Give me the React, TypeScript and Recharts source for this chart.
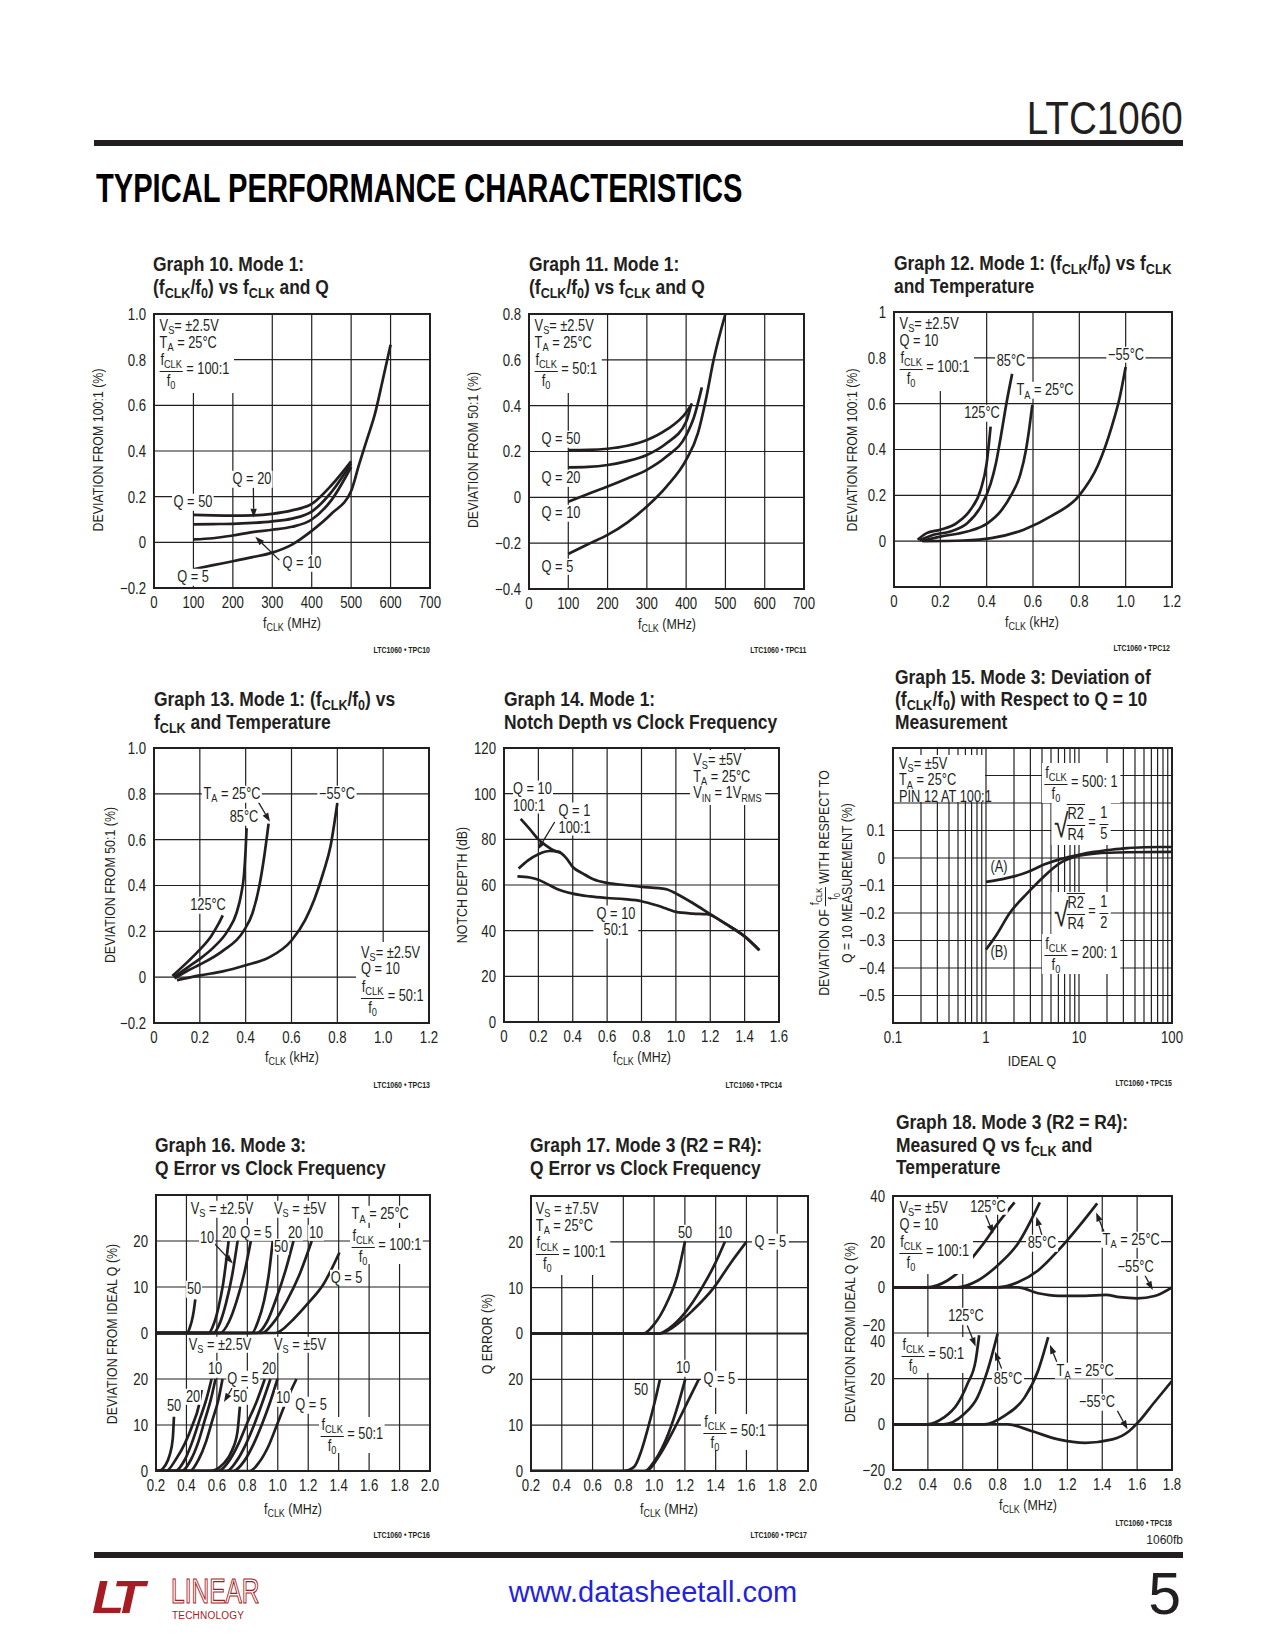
import React from "react";
import { LineChart, Line, XAxis, YAxis, CartesianGrid, ReferenceLine } from "recharts";

type Pt = [number, number];

// Graph 10: deviation from 100:1 (%) vs fCLK (MHz)
const g10Q50: Pt[] = [[100, 0.12], [150, 0.118], [200, 0.117], [250, 0.118], [300, 0.125], [350, 0.14], [400, 0.168], [450, 0.25], [500, 0.355]];
const g10Q20: Pt[] = [[100, 0.079], [150, 0.08], [200, 0.081], [250, 0.085], [300, 0.092], [350, 0.104], [400, 0.135], [450, 0.22], [500, 0.345]];
const g10Q10: Pt[] = [[100, 0.013], [150, 0.018], [200, 0.03], [250, 0.045], [300, 0.055], [350, 0.068], [400, 0.1], [450, 0.185], [500, 0.33]];
const g10Q5: Pt[] = [[100, -0.118], [150, -0.1], [200, -0.083], [250, -0.065], [300, -0.045], [350, -0.01], [400, 0.05], [450, 0.125], [500, 0.225], [520, 0.34], [540, 0.45], [560, 0.56], [580, 0.71], [600, 0.865]];
const g10XTicks = [0, 100, 200, 300, 400, 500, 600, 700];
const g10YTicks = [-0.2, 0, 0.2, 0.4, 0.6, 0.8, 1.0];

// Graph 11: deviation from 50:1 (%) vs fCLK (MHz)
const g11Q50: Pt[] = [[100, 0.206], [150, 0.207], [200, 0.212], [250, 0.225], [300, 0.25], [350, 0.295], [400, 0.37], [415, 0.41]];
const g11Q20: Pt[] = [[100, 0.131], [150, 0.133], [200, 0.141], [250, 0.158], [300, 0.185], [350, 0.236], [400, 0.33], [412, 0.4]];
const g11Q10: Pt[] = [[100, -0.019], [150, 0.015], [200, 0.047], [250, 0.082], [300, 0.12], [350, 0.178], [400, 0.27], [420, 0.35], [440, 0.48]];
const g11Q5: Pt[] = [[100, -0.247], [150, -0.205], [200, -0.164], [250, -0.11], [300, -0.04], [350, 0.047], [400, 0.163], [430, 0.28], [450, 0.425], [470, 0.6], [500, 0.8]];
const g11XTicks = [0, 100, 200, 300, 400, 500, 600, 700];
const g11YTicks = [-0.4, -0.2, 0, 0.2, 0.4, 0.6, 0.8];

// Graph 12: deviation from 100:1 (%) vs fCLK (kHz), temperature
const g12T125: Pt[] = [[0.102, 0.006], [0.141, 0.035], [0.2, 0.05], [0.272, 0.08], [0.33, 0.137], [0.374, 0.224], [0.4, 0.34], [0.417, 0.5]];
const g12T85: Pt[] = [[0.11, 0.003], [0.17, 0.028], [0.243, 0.042], [0.316, 0.078], [0.374, 0.15], [0.417, 0.25], [0.44, 0.34], [0.461, 0.456], [0.485, 0.6], [0.51, 0.73]];
const g12T25: Pt[] = [[0.12, 0], [0.2, 0.02], [0.316, 0.042], [0.403, 0.078], [0.46, 0.13], [0.505, 0.2], [0.545, 0.29], [0.57, 0.4], [0.585, 0.5], [0.597, 0.595]];
const g12Tm55: Pt[] = [[0.127, 0], [0.3, 0.003], [0.42, 0.013], [0.56, 0.05], [0.68, 0.11], [0.8, 0.2], [0.88, 0.33], [0.94, 0.5], [0.975, 0.63], [1.0, 0.76]];
const g12XTicks = [0, 0.2, 0.4, 0.6, 0.8, 1.0, 1.2];
const g12YTicks = [-0.2, 0, 0.2, 0.4, 0.6, 0.8, 1.0];

// Graph 13: deviation from 50:1 (%) vs fCLK (kHz), temperature
const g13T125: Pt[] = [[0.08, 0.005], [0.15, 0.07], [0.2, 0.12], [0.25, 0.18], [0.28, 0.23], [0.3, 0.27]];
const g13T85: Pt[] = [[0.087, 0], [0.15, 0.045], [0.2, 0.08], [0.26, 0.13], [0.32, 0.2], [0.36, 0.28], [0.38, 0.36], [0.393, 0.45], [0.4, 0.56], [0.404, 0.65]];
const g13T25: Pt[] = [[0.09, -0.005], [0.15, 0.03], [0.2, 0.055], [0.3, 0.115], [0.39, 0.2], [0.43, 0.28], [0.46, 0.4], [0.48, 0.52], [0.5, 0.67]];
const g13Tm55: Pt[] = [[0.1, -0.013], [0.2, 0.008], [0.3, 0.025], [0.4, 0.052], [0.5, 0.085], [0.6, 0.16], [0.66, 0.25], [0.7, 0.34], [0.74, 0.46], [0.77, 0.57], [0.8, 0.76]];
const g13XTicks = [0, 0.2, 0.4, 0.6, 0.8, 1.0, 1.2];
const g13YTicks = [-0.2, 0, 0.2, 0.4, 0.6, 0.8, 1.0];

// Graph 14: notch depth (dB) vs clock frequency (MHz)
const g14Q10r100: Pt[] = [[0.097, 89], [0.15, 84.5], [0.2, 80], [0.25, 77], [0.285, 75.3], [0.33, 74.3]];
const g14Q1r100: Pt[] = [[0.085, 67.2], [0.14, 70.8], [0.2, 73.5], [0.265, 74.9], [0.32, 74.4], [0.36, 72], [0.4, 67.9], [0.46, 65], [0.52, 62.5], [0.6, 60.9], [0.7, 60], [0.8, 59.2], [0.9, 58.6], [0.95, 58], [1.0, 56.3], [1.1, 52], [1.2, 47.2], [1.3, 42.5], [1.4, 37.5], [1.486, 31.4]];
const g14Q10r50: Pt[] = [[0.078, 63.8], [0.15, 63.3], [0.2, 62.3], [0.25, 60.5], [0.305, 58.4], [0.4, 56.2], [0.5, 55], [0.6, 54.3], [0.7, 53.8], [0.8, 52.9], [0.887, 51.1], [0.95, 49.5], [1.0, 48.2], [1.1, 47.5], [1.18, 47.2], [1.3, 42.5], [1.4, 37.5], [1.486, 31.4]];
const g14XTicks = [0, 0.2, 0.4, 0.6, 0.8, 1.0, 1.2, 1.4, 1.6];
const g14YTicks = [0, 20, 40, 60, 80, 100, 120];

// Graph 15: deviation vs ideal Q (log)
const g15A: Pt[] = [[1, -0.087], [1.5, -0.077], [2, -0.067], [2.8, -0.051], [4.2, -0.024], [6.3, -0.004], [10, 0.012], [14.5, 0.022], [22, 0.03], [33, 0.036], [50, 0.039], [75, 0.04], [100, 0.04]];
const g15B: Pt[] = [[1, -0.333], [1.3, -0.279], [1.8, -0.2], [2.8, -0.127], [4.2, -0.067], [6.3, -0.018], [10, 0.008], [14.5, 0.016], [33, 0.021], [100, 0.022]];
const g15XTicks = [0.1, 0.2, 0.3, 0.4, 0.5, 0.6, 0.7, 0.8, 0.9, 1, 2, 3, 4, 5, 6, 7, 8, 9, 10, 20, 30, 40, 50, 60, 70, 80, 90, 100];
const g15YTicks = [-0.6, -0.5, -0.4, -0.3, -0.2, -0.1, 0, 0.1, 0.2, 0.3, 0.4];

// Graph 16: Q error (%) vs fCLK (MHz); upper panel 100:1, lower panel 50:1
const g16U25Q50: Pt[] = [[0.2, 0], [0.405, 0], [0.42, 1], [0.435, 2.6], [0.448, 4.8], [0.458, 7.3]];
const g16U25Q20: Pt[] = [[0.2, 0], [0.546, 0], [0.58, 2], [0.61, 5.5], [0.64, 10.5], [0.677, 20]];
const g16U25Q10: Pt[] = [[0.2, 0], [0.578, 0], [0.62, 2.2], [0.66, 6.5], [0.7, 12.5], [0.736, 20]];
const g16U25Q5: Pt[] = [[0.2, 0], [0.622, 0], [0.68, 2.5], [0.73, 7], [0.78, 13], [0.823, 20]];
const g16U5Q50: Pt[] = [[0.2, 0], [0.83, 0], [0.87, 2.5], [0.91, 7], [0.94, 12.5], [0.967, 20]];
const g16U5Q20: Pt[] = [[0.2, 0], [0.862, 0], [0.93, 2.5], [0.99, 7.5], [1.05, 13.5], [1.103, 20]];
const g16U5Q10: Pt[] = [[0.2, 0], [0.895, 0], [0.97, 2.2], [1.06, 7], [1.14, 12.5], [1.223, 20]];
const g16U5Q5: Pt[] = [[0.2, 0], [0.983, 0], [1.1, 2.9], [1.2, 6.5], [1.3, 10.6], [1.405, 17.5]];
const g16L25Q50: Pt[] = [[0.2, 0], [0.215, 0], [0.26, 1.2], [0.29, 3.5], [0.31, 7], [0.318, 11.8]];
const g16L25Q20: Pt[] = [[0.2, 0], [0.266, 0], [0.33, 2.5], [0.39, 6], [0.44, 10], [0.48, 14], [0.5, 17.6]];
const g16L25Q10a: Pt[] = [[0.2, 0], [0.325, 0], [0.39, 2.5], [0.44, 6.5], [0.49, 11.5], [0.53, 15.5], [0.565, 20]];
const g16L25Q10b: Pt[] = [[0.2, 0], [0.369, 0], [0.43, 2.5], [0.48, 6.5], [0.52, 11], [0.56, 15.5], [0.591, 20]];
const g16L25Q5: Pt[] = [[0.2, 0], [0.423, 0], [0.48, 2.5], [0.53, 6.5], [0.57, 11], [0.61, 15.5], [0.637, 20]];
const g16L5Q50: Pt[] = [[0.2, 0], [0.554, 0], [0.64, 1.5], [0.7, 4.5], [0.735, 8.5], [0.751, 14]];
const g16L5Q20: Pt[] = [[0.2, 0], [0.609, 0], [0.68, 2.2], [0.74, 5.8], [0.8, 10.5], [0.86, 15], [0.915, 20]];
const g16L5Q20b: Pt[] = [[0.2, 0], [0.664, 0], [0.73, 2.2], [0.79, 5.8], [0.85, 10.5], [0.9, 15], [0.952, 20]];
const g16L5Q10: Pt[] = [[0.2, 0], [0.707, 0], [0.78, 2.2], [0.84, 5.8], [0.9, 10.5], [0.95, 15], [0.998, 20]];
const g16L5Q5: Pt[] = [[0.2, 0], [0.816, 0], [0.88, 2], [0.94, 5.5], [1.0, 10.5], [1.06, 15.5], [1.123, 20]];
const g16XTicks = [0.2, 0.4, 0.6, 0.8, 1.0, 1.2, 1.4, 1.6, 1.8, 2.0];
const g16YTicks = [0, 10, 20, 30, 40, 50, 60];

// Graph 17: Q error (%) vs fCLK (MHz), R2 = R4
const g17U50: Pt[] = [[0.2, 0], [0.93, 0], [1.0, 2], [1.08, 6.5], [1.15, 12.5], [1.2, 20]];
const g17U10: Pt[] = [[0.2, 0], [1.03, 0], [1.1, 1.2], [1.2, 4.5], [1.311, 10], [1.4, 15.5], [1.46, 20]];
const g17U5: Pt[] = [[0.2, 0], [1.04, 0], [1.12, 1.3], [1.25, 5], [1.388, 10], [1.5, 15.5], [1.6, 20]];
const g17L50: Pt[] = [[0.2, 0], [0.8, 0], [0.87, 0.9], [0.918, 4.5], [0.962, 9.6], [1.0, 14.5], [1.038, 20]];
const g17L10: Pt[] = [[0.2, 0], [0.94, 0], [1.005, 2.3], [1.093, 8.2], [1.158, 14.7], [1.202, 20]];
const g17L5: Pt[] = [[0.2, 0], [0.95, 0], [1.027, 3], [1.137, 9.6], [1.224, 15.5], [1.29, 20]];

// Graph 18: measured Q deviation (%) vs fCLK (MHz), temperature
const g18U125: Pt[] = [[0.2, 0], [0.394, 0], [0.51, 2.9], [0.606, 8.8], [0.703, 17.6], [0.8, 27.9], [0.897, 37.2]];
const g18U85: Pt[] = [[0.2, 0], [0.568, 0], [0.684, 2.9], [0.8, 9.6], [0.916, 19.1], [1.042, 37.2]];
const g18U25: Pt[] = [[0.2, 0], [0.8, 0], [0.916, 2.2], [1.032, 7.4], [1.148, 16.2], [1.264, 26.5], [1.371, 36.8]];
const g18Um55: Pt[] = [[0.2, 0], [0.916, 0], [1.032, -2.6], [1.148, -3.7], [1.303, -3.7], [1.42, -3.3], [1.5, -4.3], [1.6, -4.8], [1.7, -3.8], [1.8, 0]];
const g18L125: Pt[] = [[0.2, 0], [0.394, 0], [0.49, 2.9], [0.568, 8.8], [0.626, 17.6], [0.674, 27.9], [0.694, 39]];
const g18L85: Pt[] = [[0.2, 0], [0.49, 0], [0.606, 4.4], [0.684, 11.8], [0.742, 23.5], [0.8, 39.7]];
const g18L25: Pt[] = [[0.2, 0], [0.723, 0], [0.839, 3.7], [0.955, 11.8], [1.032, 23.5], [1.09, 38.2]];
const g18Lm55: Pt[] = [[0.2, 0], [0.858, 0], [0.993, -2.9], [1.148, -6.6], [1.303, -8.1], [1.458, -6.6], [1.555, -2.9], [1.613, 1.5], [1.69, 8.8], [1.8, 19]];
const g18XTicks = [0.2, 0.4, 0.6, 0.8, 1.0, 1.2, 1.4, 1.6, 1.8];
const g18YTicks = [0, 20, 40, 60, 80, 100, 120];

const INK = "#231f20";
const SANS = '"Liberation Sans", Arial, Helvetica, sans-serif';
const COND = 0.8; // horizontal squeeze to mimic Helvetica Condensed

const minus = (s: string) => s.replace("-", "\u2212");
const f1 = (v: number) => (v === 0 ? "0" : minus(v.toFixed(1)));
const fInt = (v: number) => String(v);
const shift = (pts: Pt[], d: number): Pt[] => pts.map(([x, y]) => [x, y + d] as Pt);

interface Box { x: number; y: number; w: number; h: number }

function mapper(b: Box, xd: [number, number], yd: [number, number], log = false) {
  const lx = (v: number) => Math.log10(v);
  return {
    fx: (v: number) =>
      log ? b.x + ((lx(v) - lx(xd[0])) / (lx(xd[1]) - lx(xd[0]))) * b.w : b.x + ((v - xd[0]) / (xd[1] - xd[0])) * b.w,
    fy: (v: number) => b.y + ((yd[1] - v) / (yd[1] - yd[0])) * b.h,
  };
}

const Sub = ({ children }: any) => (
  <span style={{ fontSize: "0.72em", position: "relative", top: "0.28em", lineHeight: 0 }}>{children}</span>
);
const FCLK = () => <>f<Sub>CLK</Sub></>;
const F0 = () => <>f<Sub>0</Sub></>;

function Frac({ top, bot, lh = 15 }: any) {
  return (
    <span style={{ display: "inline-flex", flexDirection: "column", alignItems: "center", verticalAlign: "middle", lineHeight: `${lh}px` }}>
      <span style={{ borderBottom: `1.3px solid ${INK}`, padding: "0 1px 4px" }}>{top}</span>
      <span style={{ paddingTop: 1 }}>{bot}</span>
    </span>
  );
}

function Sqrt({ children }: any) {
  return (
    <span style={{ display: "inline-flex", alignItems: "flex-end", verticalAlign: "middle" }}>
      <span style={{ fontSize: 33, lineHeight: "33px", fontFamily: SANS }}>√</span>
      <span style={{ borderTop: `1.3px solid ${INK}`, paddingTop: 1, marginLeft: -2 }}>{children}</span>
    </span>
  );
}

function ArrowShape(p: any) {
  const { x1, y1, x2, y2 } = p;
  const ang = Math.atan2(y2 - y1, x2 - x1);
  const L = 9;
  const W = 3.2;
  const bx = x2 - L * Math.cos(ang);
  const by = y2 - L * Math.sin(ang);
  const px = -Math.sin(ang) * W;
  const py = Math.cos(ang) * W;
  return (
    <g>
      <line x1={x1} y1={y1} x2={bx} y2={by} stroke={INK} strokeWidth={1.3} />
      <polygon points={`${x2},${y2} ${bx + px},${by + py} ${bx - px},${by - py}`} fill={INK} />
    </g>
  );
}

function XTick(p: any) {
  const { x, y, payload, tickFormatter } = p;
  const s = tickFormatter ? tickFormatter(payload.value, payload.index) : String(payload.value);
  return (
    <text transform={`translate(${x},${y}) scale(${COND},1)`} textAnchor="middle" dy="0.71em" fill={INK} fontSize={16.5} fontFamily={SANS}>
      {s}
    </text>
  );
}

function YTick(p: any) {
  const { x, y, payload, tickFormatter } = p;
  const s = tickFormatter ? tickFormatter(payload.value, payload.index) : String(payload.value);
  return (
    <text transform={`translate(${x},${y}) scale(${COND},1)`} textAnchor="end" dy="0.355em" fill={INK} fontSize={16.5} fontFamily={SANS}>
      {s}
    </text>
  );
}

function Plot({ box, xd, yd, xt, yt, xf, yf, yTick, log, series, arrows, midLine }: any) {
  const L = 64;
  const T = 14;
  const R = 16;
  const B = 34;
  return (
    <div style={{ position: "absolute", left: box.x - L, top: box.y - T }}>
      <LineChart width={box.w + L + R} height={box.h + T + B} margin={{ top: T, right: R, bottom: 0, left: 0 }}>
        <CartesianGrid stroke={INK} strokeWidth={1.2} />
        <XAxis
          type="number"
          dataKey="x"
          domain={xd}
          ticks={xt}
          scale={log ? "log" : "linear"}
          allowDataOverflow
          interval={0}
          axisLine={false}
          tickLine={false}
          tickFormatter={xf}
          tick={<XTick />}
          height={B}
        />
        <YAxis
          type="number"
          dataKey="y"
          domain={yd}
          ticks={yt}
          allowDataOverflow
          interval={0}
          axisLine={false}
          tickLine={false}
          tickFormatter={yf}
          tick={yTick ?? <YTick />}
          width={L}
        />
        {midLine !== undefined && <ReferenceLine y={midLine} stroke={INK} strokeWidth={2.2} />}
        {series.map((s: Pt[], i: number) => (
          <Line
            key={i}
            data={s.map(([x, y]) => ({ x, y }))}
            dataKey="y"
            type="monotone"
            stroke={INK}
            strokeWidth={2.7}
            dot={false}
            activeDot={false}
            isAnimationActive={false}
          />
        ))}
        {(arrows ?? []).map((a: [Pt, Pt], i: number) => (
          <ReferenceLine
            key={"a" + i}
            segment={[{ x: a[0][0], y: a[0][1] }, { x: a[1][0], y: a[1][1] }]}
            shape={ArrowShape}
          />
        ))}
      </LineChart>
    </div>
  );
}

const ANCH: Record<string, [string, string]> = {
  c: ["translate(-50%,-50%)", "center center"],
  l: ["translate(0,-50%)", "left center"],
  r: ["translate(-100%,-50%)", "right center"],
  tl: ["translate(0,0)", "left top"],
  tr: ["translate(-100%,0)", "right top"],
};

function Note({ m, x, y, a = "c", bg = true, pad = "0 2px", w, h, align, children }: any) {
  const [tr, origin] = ANCH[a];
  const fixed = w !== undefined;
  return (
    <div
      style={{
        position: "absolute",
        left: m.fx(x),
        top: m.fy(y),
        transform: fixed ? tr : `${tr} scaleX(${COND})`,
        transformOrigin: origin,
        background: bg ? "#fff" : "transparent",
        padding: pad,
        width: w,
        height: h,
        boxSizing: "border-box",
        whiteSpace: "nowrap",
        fontFamily: SANS,
        fontSize: 16,
        lineHeight: "16.5px",
        color: INK,
        textAlign: align ?? "left",
      }}
    >
      {fixed ? <div style={{ transform: `scaleX(${COND})`, transformOrigin: "left top" }}>{children}</div> : children}
    </div>
  );
}

function Border({ box }: { box: Box }) {
  return (
    <div
      style={{
        position: "absolute",
        left: box.x - 1,
        top: box.y - 1,
        width: box.w + 2,
        height: box.h + 2,
        border: `2px solid ${INK}`,
        boxSizing: "border-box",
        pointerEvents: "none",
      }}
    />
  );
}

function Title({ x, top, children }: any) {
  return (
    <div style={{ position: "absolute", left: x, top, fontFamily: SANS, fontWeight: 700, fontSize: 19.6, lineHeight: "22.6px", color: INK, whiteSpace: "nowrap", transform: "scaleX(0.89)", transformOrigin: "left top" }}>
      {children}
    </div>
  );
}

function YLabel({ cx, cy, children, style }: any) {
  return (
    <div style={{ position: "absolute", left: cx, top: cy, transform: `translate(-50%,-50%) rotate(-90deg) scaleX(${COND})`, whiteSpace: "nowrap", fontFamily: SANS, fontSize: 15.5, lineHeight: "16px", color: INK, ...style }}>
      {children}
    </div>
  );
}

function XLabel({ cx, cy, children }: any) {
  return (
    <div style={{ position: "absolute", left: cx, top: cy, transform: `translate(-50%,-50%) scaleX(${COND})`, whiteSpace: "nowrap", fontFamily: SANS, fontSize: 15.5, lineHeight: "16px", color: INK }}>
      {children}
    </div>
  );
}

function Code({ right, cy, children }: any) {
  return (
    <div style={{ position: "absolute", right: 1275 - right, top: cy - 4.5, fontFamily: SANS, fontWeight: 700, fontSize: 8.5, lineHeight: "9px", color: INK, whiteSpace: "nowrap", transform: "scaleX(0.82)", transformOrigin: "right center" }}>
      {children}
    </div>
  );
}

const MHz = () => <><FCLK /> (MHz)</>;

function Graph10() {
  const box = { x: 154, y: 314, w: 276, h: 274 };
  const xd: [number, number] = [0, 700];
  const yd: [number, number] = [-0.2, 1.0];
  const m = mapper(box, xd, yd);
  return (
    <>
      <Title x={153} top={253}>Graph 10. Mode 1:<br />(<FCLK />/<F0 />) vs <FCLK /> and Q</Title>
      <Plot box={box} xd={xd} yd={yd} xt={g10XTicks} yt={g10YTicks} xf={fInt} yf={f1}
        series={[g10Q50, g10Q20, g10Q10, g10Q5]}
        arrows={[[[252, 0.24], [253, 0.108]], [[318, -0.078], [257, 0.025]]]} />
      <Note m={m} x={0} y={1.0} a="tl" pad="4px 6px 5px 7px">
        <div>V<Sub>S</Sub>= ±2.5V</div>
        <div>T<Sub>A</Sub> = 25°C</div>
        <div style={{ marginTop: 1 }}><Frac top={<FCLK />} bot={<F0 />} /> = 100:1</div>
      </Note>
      <Note m={m} x={100} y={0.175}>Q = 50</Note>
      <Note m={m} x={248} y={0.276}>Q = 20</Note>
      <Note m={m} x={375} y={-0.092}>Q = 10</Note>
      <Note m={m} x={100} y={-0.152}>Q = 5</Note>
      <Border box={box} />
      <YLabel cx={98} cy={450}>DEVIATION FROM 100:1 (%)</YLabel>
      <XLabel cx={292} cy={623}><MHz /></XLabel>
      <Code right={430} cy={650}>LTC1060 • TPC10</Code>
    </>
  );
}

function Graph11() {
  const box = { x: 529, y: 314, w: 275, h: 275 };
  const xd: [number, number] = [0, 700];
  const yd: [number, number] = [-0.4, 0.8];
  const m = mapper(box, xd, yd);
  return (
    <>
      <Title x={529} top={253}>Graph 11. Mode 1:<br />(<FCLK />/<F0 />) vs <FCLK /> and Q</Title>
      <Plot box={box} xd={xd} yd={yd} xt={g11XTicks} yt={g11YTicks} xf={fInt} yf={f1}
        series={[g11Q50, g11Q20, g11Q10, g11Q5]} />
      <Note m={m} x={0} y={0.8} a="tl" pad="4px 6px 5px 7px">
        <div>V<Sub>S</Sub>= ±2.5V</div>
        <div>T<Sub>A</Sub> = 25°C</div>
        <div style={{ marginTop: 1 }}><Frac top={<FCLK />} bot={<F0 />} /> = 50:1</div>
      </Note>
      <Note m={m} x={29} y={0.253} a="l">Q = 50</Note>
      <Note m={m} x={29} y={0.083} a="l">Q = 20</Note>
      <Note m={m} x={29} y={-0.07} a="l">Q = 10</Note>
      <Note m={m} x={29} y={-0.303} a="l">Q = 5</Note>
      <Border box={box} />
      <YLabel cx={473} cy={450}>DEVIATION FROM 50:1 (%)</YLabel>
      <XLabel cx={667} cy={624}><MHz /></XLabel>
      <Code right={806} cy={650}>LTC1060 • TPC11</Code>
    </>
  );
}

function Graph12() {
  const box = { x: 894, y: 312, w: 278, h: 275 };
  const xd: [number, number] = [0, 1.2];
  const yd: [number, number] = [-0.2, 1.0];
  const m = mapper(box, xd, yd);
  const yf = (v: number) => (v === 1 ? "1" : v < -0.1 ? "" : f1(v));
  return (
    <>
      <Title x={894} top={252.3}>Graph 12. Mode 1: (<FCLK />/<F0 />) vs <FCLK /><br />and Temperature</Title>
      <Plot box={box} xd={xd} yd={yd} xt={g12XTicks} yt={g12YTicks} xf={f1} yf={yf}
        series={[g12T125, g12T85, g12T25, g12Tm55]} />
      <Note m={m} x={0} y={1.0} a="tl" pad="4px 6px 5px 7px">
        <div>V<Sub>S</Sub>= ±2.5V</div>
        <div>Q = 10</div>
        <div style={{ marginTop: 1 }}><Frac top={<FCLK />} bot={<F0 />} /> = 100:1</div>
      </Note>
      <Note m={m} x={0.505} y={0.787}>85°C</Note>
      <Note m={m} x={0.65} y={0.658}>T<Sub>A</Sub> = 25°C</Note>
      <Note m={m} x={0.381} y={0.559}>125°C</Note>
      <Note m={m} x={1.002} y={0.813}>−55°C</Note>
      <Border box={box} />
      <YLabel cx={852} cy={450}>DEVIATION FROM 100:1 (%)</YLabel>
      <XLabel cx={1032} cy={622}><FCLK /> (kHz)</XLabel>
      <Code right={1170} cy={648}>LTC1060 • TPC12</Code>
    </>
  );
}

function Graph13() {
  const box = { x: 154, y: 748, w: 275, h: 275 };
  const xd: [number, number] = [0, 1.2];
  const yd: [number, number] = [-0.2, 1.0];
  const m = mapper(box, xd, yd);
  return (
    <>
      <Title x={154} top={688}>Graph 13. Mode 1: (<FCLK />/<F0 />) vs<br /><FCLK /> and Temperature</Title>
      <Plot box={box} xd={xd} yd={yd} xt={g13XTicks} yt={g13YTicks} xf={f1} yf={f1}
        series={[g13T125, g13T85, g13T25, g13Tm55]}
        arrows={[[[0.455, 0.765], [0.506, 0.678]]]} />
      <Note m={m} x={0.339} y={0.799}>T<Sub>A</Sub> = 25°C</Note>
      <Note m={m} x={0.392} y={0.698}>85°C</Note>
      <Note m={m} x={0.8} y={0.799}>−55°C</Note>
      <Note m={m} x={0.237} y={0.314}>125°C</Note>
      <Note m={m} x={0.88} y={0.155} a="tl" pad="3px 0 0 5px" w={m.fx(1.2) - m.fx(0.88)} h={m.fy(-0.2) - m.fy(0.155)}>
        <div>V<Sub>S</Sub>= ±2.5V</div>
        <div>Q = 10</div>
        <div style={{ marginTop: 1 }}><Frac top={<FCLK />} bot={<F0 />} /> = 50:1</div>
      </Note>
      <Border box={box} />
      <YLabel cx={110} cy={885}>DEVIATION FROM 50:1 (%)</YLabel>
      <XLabel cx={292} cy={1057}><FCLK /> (kHz)</XLabel>
      <Code right={430} cy={1085}>LTC1060 • TPC13</Code>
    </>
  );
}

function Graph14() {
  const box = { x: 504, y: 748, w: 275, h: 274 };
  const xd: [number, number] = [0, 1.6];
  const yd: [number, number] = [0, 120];
  const m = mapper(box, xd, yd);
  return (
    <>
      <Title x={504} top={688}>Graph 14. Mode 1:<br />Notch Depth vs Clock Frequency</Title>
      <Plot box={box} xd={xd} yd={yd} xt={g14XTicks} yt={g14YTicks} xf={f1} yf={fInt}
        series={[g14Q10r100, g14Q1r100, g14Q10r50]}
        arrows={[[[0.295, 87.6], [0.198, 75.5]]]} />
      <Note m={m} x={0.052} y={98.5} a="l" pad="0 2px 0 0">
        <div>Q = 10</div>
        <div>100:1</div>
      </Note>
      <Note m={m} x={0.309} y={88.9} a="l" pad="0 2px">
        <div>Q = 1</div>
        <div>100:1</div>
      </Note>
      <Note m={m} x={0.654} y={43.8} align="center" pad="0 4px">
        <div>Q = 10</div>
        <div>50:1</div>
      </Note>
      <Note m={m} x={1.08} y={119} a="tl" pad="2px 4px 3px 4px">
        <div>V<Sub>S</Sub>= ±5V</div>
        <div>T<Sub>A</Sub> = 25°C</div>
        <div>V<Sub>IN</Sub> = 1V<Sub>RMS</Sub></div>
      </Note>
      <Border box={box} />
      <YLabel cx={462} cy={885}>NOTCH DEPTH (dB)</YLabel>
      <XLabel cx={642} cy={1057}><MHz /></XLabel>
      <Code right={782} cy={1085}>LTC1060 • TPC14</Code>
    </>
  );
}

function Graph15() {
  const box = { x: 893, y: 748, w: 279, h: 275 };
  const xd: [number, number] = [0.1, 100];
  const yd: [number, number] = [-0.6, 0.4];
  const m = mapper(box, xd, yd, true);
  const xf = (v: number) => (v === 0.1 || v === 1 || v === 10 || v === 100 ? String(v) : "");
  const yf = (v: number) => (v > -0.55 && v < 0.15 ? f1(v) : "");
  const half = <Frac top="R2" bot="R4" lh={15} />;
  return (
    <>
      <Title x={895} top={665.5}>Graph 15. Mode 3: Deviation of<br />(<FCLK />/<F0 />) with Respect to Q = 10<br />Measurement</Title>
      <Plot box={box} xd={xd} yd={yd} xt={g15XTicks} yt={g15YTicks} xf={xf} yf={yf} log
        series={[g15A, g15B]} />
      <Note m={m} x={0.1} y={0.375} a="tl" pad="1px 4px 0 6px" w={m.fx(0.97) - m.fx(0.1)} h={m.fy(0.205) - m.fy(0.375)}>
        <div>V<Sub>S</Sub>= ±5V</div>
        <div>T<Sub>A</Sub> = 25°C</div>
        <div>PIN 12 AT 100:1</div>
      </Note>
      <Note m={m} x={10.5} y={0.272} pad="2px 3px"><Frac top={<FCLK />} bot={<F0 />} /> = 500: 1</Note>
      <Note m={m} x={10.5} y={0.122} pad="1px 3px 3px"><Sqrt>{half}</Sqrt> = <Frac top="1" bot="5" lh={15} /></Note>
      <Note m={m} x={10.5} y={-0.2} pad="1px 3px 3px"><Sqrt>{half}</Sqrt> = <Frac top="1" bot="2" lh={15} /></Note>
      <Note m={m} x={10.5} y={-0.35} pad="2px 3px"><Frac top={<FCLK />} bot={<F0 />} /> = 200: 1</Note>
      <Note m={m} x={1.39} y={-0.033} bg={false}>(A)</Note>
      <Note m={m} x={1.39} y={-0.342} bg={false}>(B)</Note>
      <Border box={box} />
      <YLabel cx={832} cy={883} style={{ textAlign: "center" }}>
        <div style={{ display: "flex", alignItems: "center", justifyContent: "center", height: 30, gap: 4 }}>
          <span>DEVIATION OF</span>
          <span style={{ fontSize: 13 }}><Frac top={<FCLK />} bot={<F0 />} lh={12} /></span>
          <span>WITH RESPECT TO</span>
        </div>
        <div style={{ lineHeight: "16px" }}>Q = 10 MEASUREMENT (%)</div>
      </YLabel>
      <XLabel cx={1032} cy={1061}>IDEAL Q</XLabel>
      <Code right={1172} cy={1083}>LTC1060 • TPC15</Code>
    </>
  );
}

function Graph16() {
  const box = { x: 156, y: 1195, w: 274, h: 276 };
  const xd: [number, number] = [0.2, 2.0];
  const yd: [number, number] = [0, 60];
  const m = mapper(box, xd, yd);
  const yf = (v: number) => (v === 60 ? "" : String(v >= 30 ? v - 30 : v));
  const upper = [g16U25Q50, g16U25Q20, g16U25Q10, g16U25Q5, g16U5Q50, g16U5Q20, g16U5Q10, g16U5Q5].map((s) => shift(s, 30));
  const lower = [g16L25Q50, g16L25Q20, g16L25Q10a, g16L25Q10b, g16L25Q5, g16L5Q50, g16L5Q20, g16L5Q20b, g16L5Q10, g16L5Q5];
  return (
    <>
      <Title x={155} top={1134}>Graph 16. Mode 3:<br />Q Error vs Clock Frequency</Title>
      <Plot box={box} xd={xd} yd={yd} xt={g16XTicks} yt={g16YTicks} xf={f1} yf={yf} midLine={30}
        series={[...upper, ...lower]}
        arrows={[[[0.585, 49.4], [0.705, 45.1]], [[0.7, 18.0], [0.646, 15.0]]]} />
      <Note m={m} x={0.635} y={56.9}>V<Sub>S</Sub> = ±2.5V</Note>
      <Note m={m} x={1.147} y={56.9}>V<Sub>S</Sub> = ±5V</Note>
      <Note m={m} x={0.532} y={50.6} pad="0 1px">10</Note>
      <Note m={m} x={0.679} y={51.8} pad="0 1px">20</Note>
      <Note m={m} x={0.858} y={51.8} pad="0 1px">Q = 5</Note>
      <Note m={m} x={1.02} y={48.8} pad="0 1px">50</Note>
      <Note m={m} x={1.116} y={51.8} pad="0 1px">20</Note>
      <Note m={m} x={1.254} y={51.8} pad="0 1px">10</Note>
      <Note m={m} x={1.477} y={55.8} a="l" pad="0 2px">T<Sub>A</Sub> = 25°C</Note>
      <Note m={m} x={1.477} y={48.9} a="l" pad="0 2px"><Frac top={<FCLK />} bot={<F0 />} /> = 100:1</Note>
      <Note m={m} x={1.345} y={42} a="l" pad="0 1px">Q = 5</Note>
      <Note m={m} x={0.449} y={39.5} pad="0 1px">50</Note>
      <Note m={m} x={0.62} y={27.5}>V<Sub>S</Sub> = ±2.5V</Note>
      <Note m={m} x={1.144} y={27.5}>V<Sub>S</Sub> = ±5V</Note>
      <Note m={m} x={0.587} y={22.1} pad="0 1px">10</Note>
      <Note m={m} x={0.772} y={20.1} pad="0 1px">Q = 5</Note>
      <Note m={m} x={0.941} y={22.1} pad="0 1px">20</Note>
      <Note m={m} x={0.318} y={14.1} pad="0 1px">50</Note>
      <Note m={m} x={0.44} y={16.1} pad="0 1px">20</Note>
      <Note m={m} x={0.751} y={16.1} pad="0 1px">50</Note>
      <Note m={m} x={1.035} y={15.8} pad="0 1px">10</Note>
      <Note m={m} x={1.221} y={14.3} pad="0 1px">Q = 5</Note>
      <Note m={m} x={1.271} y={7.8} a="l" pad="0 2px"><Frac top={<FCLK />} bot={<F0 />} /> = 50:1</Note>
      <Border box={box} />
      <YLabel cx={112} cy={1334}>DEVIATION FROM IDEAL Q (%)</YLabel>
      <XLabel cx={293} cy={1509}><MHz /></XLabel>
      <Code right={430} cy={1535}>LTC1060 • TPC16</Code>
    </>
  );
}

function Graph17() {
  const box = { x: 531, y: 1196, w: 277, h: 275 };
  const xd: [number, number] = [0.2, 2.0];
  const yd: [number, number] = [0, 60];
  const m = mapper(box, xd, yd);
  const yf = (v: number) => (v === 60 ? "" : String(v >= 30 ? v - 30 : v));
  const upper = [g17U50, g17U10, g17U5].map((s) => shift(s, 30));
  return (
    <>
      <Title x={530} top={1134}>Graph 17. Mode 3 (R2 = R4):<br />Q Error vs Clock Frequency</Title>
      <Plot box={box} xd={xd} yd={yd} xt={g16XTicks} yt={g16YTicks} xf={f1} yf={yf} midLine={30}
        series={[...upper, g17L50, g17L10, g17L5]} />
      <Note m={m} x={0.2} y={60} a="tl" pad="5px 6px 4px 6px">
        <div>V<Sub>S</Sub> = ±7.5V</div>
        <div>T<Sub>A</Sub> = 25°C</div>
        <div style={{ marginTop: 1 }}><Frac top={<FCLK />} bot={<F0 />} /> = 100:1</div>
      </Note>
      <Note m={m} x={1.202} y={52} pad="0 1px">50</Note>
      <Note m={m} x={1.458} y={52} pad="0 1px">10</Note>
      <Note m={m} x={1.635} y={50} a="l" pad="0 3px">Q = 5</Note>
      <Note m={m} x={1.185} y={22.4} pad="0 1px">10</Note>
      <Note m={m} x={0.918} y={17.7} pad="0 1px">50</Note>
      <Note m={m} x={1.305} y={20} a="l" pad="0 3px">Q = 5</Note>
      <Note m={m} x={1.305} y={8.5} a="l" pad="0 3px"><Frac top={<FCLK />} bot={<F0 />} /> = 50:1</Note>
      <Border box={box} />
      <YLabel cx={487} cy={1334}>Q ERROR (%)</YLabel>
      <XLabel cx={669} cy={1509}><MHz /></XLabel>
      <Code right={807} cy={1535}>LTC1060 • TPC17</Code>
    </>
  );
}

function G18Tick(p: any) {
  const { x, y, payload } = p;
  const labels: Record<number, string[]> = { 0: ["−20"], 20: ["0"], 40: ["20"], 60: ["−20", "40"], 80: ["0"], 100: ["20"], 120: ["40"] };
  const lab = labels[payload.value] ?? [];
  const st = { fill: INK, fontSize: 16.5, fontFamily: SANS };
  if (lab.length === 2) {
    return (
      <g>
        <text transform={`translate(${x},${y - 8}) scale(${COND},1)`} dy="0.355em" textAnchor="end" {...st}>{lab[0]}</text>
        <text transform={`translate(${x},${y + 8}) scale(${COND},1)`} dy="0.355em" textAnchor="end" {...st}>{lab[1]}</text>
      </g>
    );
  }
  return <text transform={`translate(${x},${y}) scale(${COND},1)`} dy="0.355em" textAnchor="end" {...st}>{lab[0]}</text>;
}

function Graph18() {
  const box = { x: 893, y: 1196, w: 279, h: 274 };
  const xd: [number, number] = [0.2, 1.8];
  const yd: [number, number] = [0, 120];
  const m = mapper(box, xd, yd);
  const upper = [g18U125, g18U85, g18U25, g18Um55].map((s) => shift(s, 80));
  const lower = [g18L125, g18L85, g18L25, g18Lm55].map((s) => shift(s, 20));
  return (
    <>
      <Title x={896} top={1111.3}>Graph 18. Mode 3 (R2 = R4):<br />Measured Q vs <FCLK /> and<br />Temperature</Title>
      <Plot box={box} xd={xd} yd={yd} xt={g18XTicks} yt={g18YTicks} xf={f1} yTick={<G18Tick />}
        series={[...upper, ...lower]}
        arrows={[
          [[0.732, 111.6], [0.775, 103.5]],
          [[1.055, 102.6], [1.022, 110.9]],
          [[1.41, 104.3], [1.365, 112.8]],
          [[1.642, 85.6], [1.69, 78.8]],
          [[0.626, 63.3], [0.674, 54.1]],
          [[0.823, 44.4], [0.784, 51.9]],
          [[1.139, 47.4], [1.1, 54.8]],
          [[1.487, 25.9], [1.545, 17.8]],
        ]} />
      <Note m={m} x={0.2} y={120} a="tl" pad="4px 5px 4px 8px">
        <div>V<Sub>S</Sub>= ±5V</div>
        <div>Q = 10</div>
        <div style={{ marginTop: 1 }}><Frac top={<FCLK />} bot={<F0 />} /> = 100:1</div>
      </Note>
      <Note m={m} x={0.742} y={115.3}>125°C</Note>
      <Note m={m} x={1.055} y={99.4}>85°C</Note>
      <Note m={m} x={1.39} y={100.9} a="l">T<Sub>A</Sub> = 25°C</Note>
      <Note m={m} x={1.481} y={88.8} a="l">−55°C</Note>
      <Note m={m} x={0.616} y={67.4}>125°C</Note>
      <Note m={m} x={0.239} y={50.4} a="l"><Frac top={<FCLK />} bot={<F0 />} /> = 50:1</Note>
      <Note m={m} x={0.858} y={40}>85°C</Note>
      <Note m={m} x={1.129} y={43.4} a="l">T<Sub>A</Sub> = 25°C</Note>
      <Note m={m} x={1.371} y={29.6}>−55°C</Note>
      <Border box={box} />
      <YLabel cx={850} cy={1332}>DEVIATION FROM IDEAL Q (%)</YLabel>
      <XLabel cx={1028} cy={1505}><MHz /></XLabel>
      <Code right={1172} cy={1523}>LTC1060 • TPC18</Code>
    </>
  );
}

function Header() {
  return (
    <>
      <div style={{ position: "absolute", right: 1275 - 1183, top: 95, fontFamily: SANS, fontSize: 46, lineHeight: 1, color: INK, transform: "scaleX(0.84)", transformOrigin: "right top" }}>LTC1060</div>
      <div style={{ position: "absolute", left: 94, top: 140, width: 1089, height: 6, background: INK }} />
      <div style={{ position: "absolute", left: 96, top: 168, fontFamily: SANS, fontWeight: 700, fontSize: 41, lineHeight: 1, transform: "scaleX(0.71)", transformOrigin: "left top", whiteSpace: "nowrap", color: "#000" }}>
        TYPICAL PERFORMANCE CHARACTERISTICS
      </div>
    </>
  );
}

function Footer() {
  const red = "#a51c24";
  return (
    <>
      <div style={{ position: "absolute", right: 1275 - 1183, top: 1534, fontFamily: SANS, fontSize: 12, lineHeight: 1, color: INK }}>1060fb</div>
      <div style={{ position: "absolute", left: 94, top: 1552, width: 1089, height: 6, background: INK }} />
      <div style={{ position: "absolute", left: 92, top: 1574, fontFamily: SANS, fontWeight: 700, fontStyle: "italic", fontSize: 46, lineHeight: 1, color: red, letterSpacing: -7, transform: "scaleX(1.15)", transformOrigin: "left top" }}>LT</div>
      <div style={{ position: "absolute", left: 171, top: 1577, fontFamily: SANS, fontSize: 35, lineHeight: 0.8, color: "#fff", WebkitTextStroke: `1.2px ${red}`, transform: "scaleX(0.7)", transformOrigin: "left top" }}>LINEAR</div>
      <div style={{ position: "absolute", left: 172, top: 1611, fontFamily: SANS, fontSize: 10, lineHeight: 1, color: red, letterSpacing: 0.2 }}>TECHNOLOGY</div>
      <div style={{ position: "absolute", left: 653, top: 1578, transform: "translateX(-50%)", fontFamily: SANS, fontSize: 29, lineHeight: 1, color: "#2323dd", whiteSpace: "nowrap" }}>www.datasheetall.com</div>
      <div style={{ position: "absolute", right: 1275 - 1181, top: 1565, fontFamily: SANS, fontSize: 59, lineHeight: 1, color: INK }}>5</div>
    </>
  );
}

export default function App() {
  return (
    <div style={{ position: "relative", width: 1275, height: 1650, background: "#fff", overflow: "hidden" }}>
      <style>{`body{margin:0}`}</style>
      <Header />
      <Graph10 />
      <Graph11 />
      <Graph12 />
      <Graph13 />
      <Graph14 />
      <Graph15 />
      <Graph16 />
      <Graph17 />
      <Graph18 />
      <Footer />
    </div>
  );
}
